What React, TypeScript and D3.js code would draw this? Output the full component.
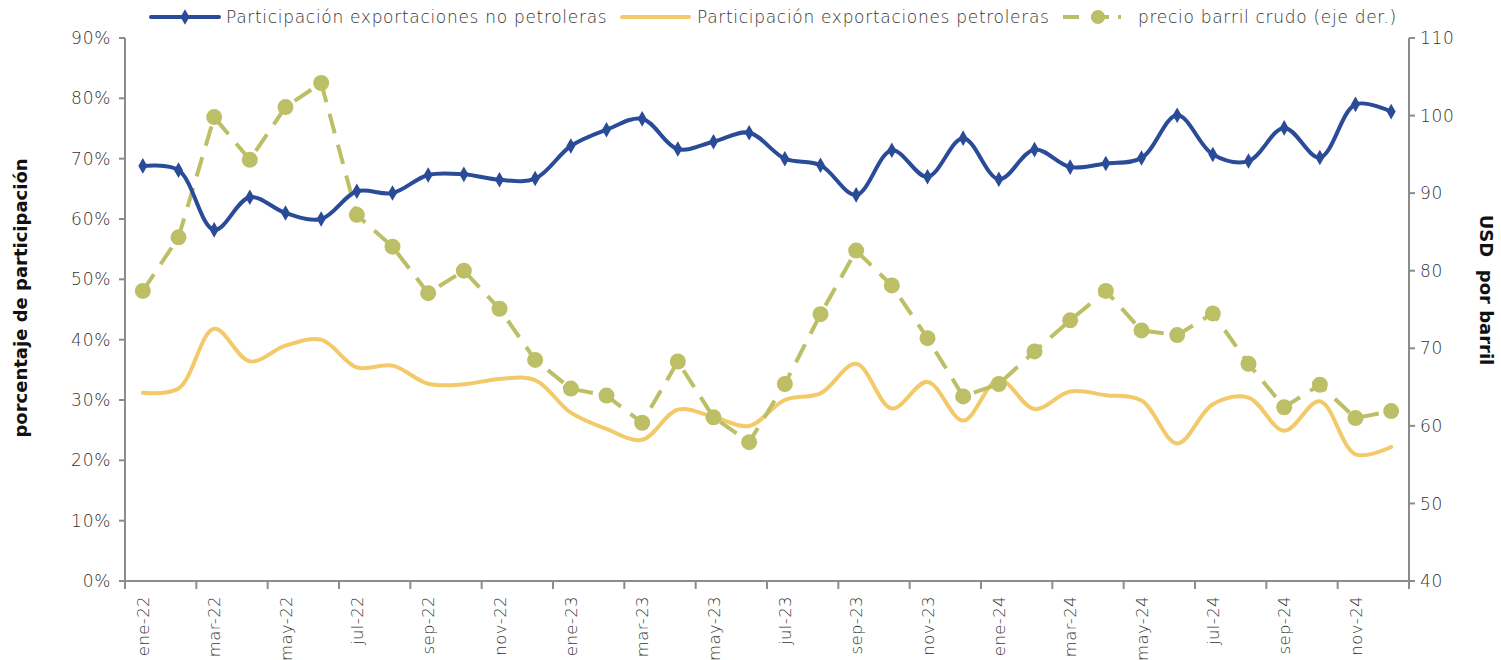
import React, { useEffect, useRef } from 'react';
import * as d3 from 'd3';

const months = [
  'ene-22','feb-22','mar-22','abr-22','may-22','jun-22','jul-22','ago-22','sep-22','oct-22','nov-22','dic-22',
  'ene-23','feb-23','mar-23','abr-23','may-23','jun-23','jul-23','ago-23','sep-23','oct-23','nov-23','dic-23',
  'ene-24','feb-24','mar-24','abr-24','may-24','jun-24','jul-24','ago-24','sep-24','oct-24','nov-24','dic-24',
];

// participación exportaciones no petroleras (%)
const noPetroleras = [
  68.8, 68.1, 58.2, 63.6, 61.0, 60.0, 64.6, 64.3, 67.3, 67.4, 66.5, 66.7,
  72.1, 74.8, 76.6, 71.6, 72.8, 74.3, 70.0, 68.9, 64.0, 71.4, 67.0, 73.4,
  66.6, 71.5, 68.6, 69.2, 70.1, 77.2, 70.7, 69.6, 75.1, 70.2, 79.0, 77.8,
];

// participación exportaciones petroleras (%)
const petroleras = [
  31.2, 31.9, 41.8, 36.4, 39.0, 40.0, 35.4, 35.7, 32.7, 32.6, 33.5, 33.3,
  27.9, 25.2, 23.4, 28.4, 27.2, 25.7, 30.0, 31.1, 36.0, 28.6, 33.0, 26.6,
  33.4, 28.5, 31.4, 30.8, 29.9, 22.8, 29.3, 30.4, 24.9, 29.8, 21.0, 22.2,
];

// precio barril crudo, USD (eje derecho)
const precioBarril = [
  77.4, 84.3, 99.8, 94.3, 101.1, 104.2, 87.2, 83.1, 77.1, 80.0, 75.1, 68.5,
  64.8, 63.9, 60.4, 68.3, 61.1, 57.9, 65.4, 74.4, 82.6, 78.1, 71.3, 63.8,
  65.4, 69.6, 73.6, 77.4, 72.3, 71.7, 74.5, 68.0, 62.4, 65.3, 61.0, 61.9,
];

const leftTicks = [0, 10, 20, 30, 40, 50, 60, 70, 80, 90];
const rightTicks = [40, 50, 60, 70, 80, 90, 100, 110];

const BLUE = '#2a4b97';
const YELLOW = '#f2ca6a';
const OLIVE = '#bdbf66';
const AXIS = '#8c8c8c';
const TEXT = '#333333';
const FONT = '"DejaVu Sans", sans-serif';

const W = 1501;
const H = 660;

const App = () => {
  const ref = useRef<SVGSVGElement>(null);

  useEffect(() => {
    const svg = d3.select(ref.current);
    svg.selectAll('*').remove();

    const left = 125, right = 1409, top = 38, bottom = 581;

    const x = d3.scaleBand().domain(months).range([left, right]).padding(0);
    const cx = (m: string) => (x(m) as number) + x.bandwidth() / 2;
    const yL = d3.scaleLinear().domain([0, 90]).range([bottom, top]);
    const yR = d3.scaleLinear().domain([40, 110]).range([bottom, top]);

    const label = (sel: any, size: number, ls = 0.7) =>
      sel.attr('font-size', size).attr('font-weight', 200).attr('letter-spacing', ls)
        .attr('fill', TEXT).attr('font-family', FONT);

    // axes
    const g = svg.append('g');
    g.append('line').attr('x1', left).attr('x2', left).attr('y1', top).attr('y2', bottom)
      .attr('stroke', AXIS).attr('stroke-width', 2);
    g.append('line').attr('x1', right).attr('x2', right).attr('y1', top).attr('y2', bottom)
      .attr('stroke', AXIS).attr('stroke-width', 2);
    g.append('line').attr('x1', left - 1).attr('x2', right + 1).attr('y1', bottom).attr('y2', bottom)
      .attr('stroke', AXIS).attr('stroke-width', 2);

    leftTicks.forEach(t => {
      g.append('line').attr('x1', left - 6).attr('x2', left).attr('y1', yL(t)).attr('y2', yL(t))
        .attr('stroke', AXIS).attr('stroke-width', 2);
      label(g.append('text').attr('x', left - 14).attr('y', yL(t)).attr('dy', '0.36em')
        .attr('text-anchor', 'end'), 17).text(t + '%');
    });
    rightTicks.forEach(t => {
      g.append('line').attr('x1', right).attr('x2', right + 6).attr('y1', yR(t)).attr('y2', yR(t))
        .attr('stroke', AXIS).attr('stroke-width', 2);
      label(g.append('text').attr('x', right + 11).attr('y', yR(t)).attr('dy', '0.36em')
        .attr('text-anchor', 'start'), 17).text(t);
    });
    months.forEach((m, i) => {
      if (i % 2 === 0) {
        const xs = x(m) as number;
        g.append('line').attr('x1', xs).attr('x2', xs).attr('y1', bottom).attr('y2', bottom + 8)
          .attr('stroke', AXIS).attr('stroke-width', 2);
        label(g.append('text')
          .attr('transform', `translate(${cx(m) + 6},${bottom + 15}) rotate(-90)`)
          .attr('text-anchor', 'end'), 16.5, 0.4).text(m);
      }
    });
    g.append('line').attr('x1', right).attr('x2', right).attr('y1', bottom).attr('y2', bottom + 8)
      .attr('stroke', AXIS).attr('stroke-width', 2);

    // axis titles
    svg.append('text').attr('transform', `translate(27,298) rotate(-90)`)
      .attr('text-anchor', 'middle').attr('font-size', 18).attr('font-weight', 700)
      .attr('font-family', FONT).attr('fill', '#111').text('porcentaje de participación');
    svg.append('text').attr('transform', `translate(1480,290) rotate(90)`)
      .attr('text-anchor', 'middle').attr('font-size', 18).attr('font-weight', 700)
      .attr('font-family', FONT).attr('fill', '#111').attr('xml:space', 'preserve')
      .text('USD  por barril');

    const smooth = d3.curveCatmullRom.alpha(0.5);

    // oil share
    const lineOil = d3.line<number>().x((_, i) => cx(months[i])).y(d => yL(d)).curve(smooth);
    svg.append('path').attr('d', lineOil(petroleras)).attr('fill', 'none')
      .attr('stroke', YELLOW).attr('stroke-width', 4).attr('stroke-linecap', 'round');

    // price
    const linePrice = d3.line<number>().x((_, i) => cx(months[i])).y(d => yR(d));
    svg.append('path').attr('d', linePrice(precioBarril)).attr('fill', 'none')
      .attr('stroke', OLIVE).attr('stroke-width', 4).attr('stroke-dasharray', '20 12');
    svg.append('g').selectAll('circle').data(precioBarril).join('circle')
      .attr('cx', (_, i) => cx(months[i])).attr('cy', d => yR(d)).attr('r', 8)
      .attr('fill', OLIVE);

    // non-oil share
    const lineNon = d3.line<number>().x((_, i) => cx(months[i])).y(d => yL(d)).curve(smooth);
    svg.append('path').attr('d', lineNon(noPetroleras)).attr('fill', 'none')
      .attr('stroke', BLUE).attr('stroke-width', 4);
    const diamond = d3.symbol().type(d3.symbolDiamond).size(70);
    svg.append('g').selectAll('path').data(noPetroleras).join('path')
      .attr('d', diamond()).attr('fill', BLUE)
      .attr('transform', (d, i) => `translate(${cx(months[i])},${yL(d)})`);

    // legend
    const lg = svg.append('g');
    lg.append('line').attr('x1', 151).attr('x2', 219).attr('y1', 17).attr('y2', 17)
      .attr('stroke', BLUE).attr('stroke-width', 4).attr('stroke-linecap', 'round');
    lg.append('path').attr('d', diamond()).attr('fill', BLUE).attr('transform', 'translate(185,17)');
    label(lg.append('text').attr('x', 226).attr('y', 17).attr('dy', '0.36em'), 17)
      .text('Participación exportaciones no petroleras');
    lg.append('line').attr('x1', 622).attr('x2', 689).attr('y1', 17).attr('y2', 17)
      .attr('stroke', YELLOW).attr('stroke-width', 4).attr('stroke-linecap', 'round');
    label(lg.append('text').attr('x', 697).attr('y', 17).attr('dy', '0.36em'), 17)
      .text('Participación exportaciones petroleras');
    lg.append('line').attr('x1', 1063).attr('x2', 1132).attr('y1', 17).attr('y2', 17)
      .attr('stroke', OLIVE).attr('stroke-width', 4).attr('stroke-dasharray', '16 12 18 9 3 30');
    lg.append('circle').attr('cx', 1098).attr('cy', 17).attr('r', 7).attr('fill', OLIVE);
    label(lg.append('text').attr('x', 1138).attr('y', 17).attr('dy', '0.36em'), 17)
      .text('precio barril crudo (eje der.)');
  }, []);

  return (
    <div>
      <svg ref={ref} width={W} height={H} style={{ position: 'absolute', left: 0, top: 0, background: 'white' }} />
    </div>
  );
};

export default App;
